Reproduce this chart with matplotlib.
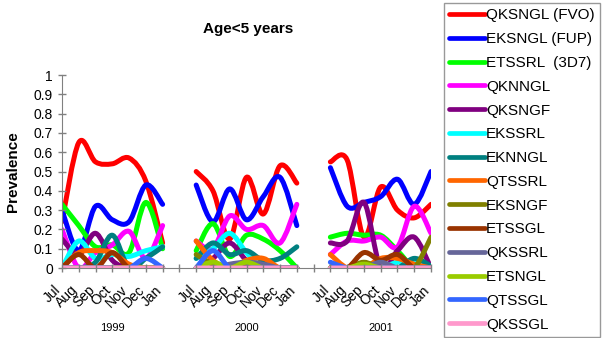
import numpy as np
import matplotlib
matplotlib.use("Agg")
import matplotlib.pyplot as plt
from matplotlib.path import Path
from matplotlib.patches import PathPatch
from matplotlib.lines import Line2D
import matplotlib.transforms as mtransforms

plt.rcParams['font.family'] = ['Liberation Sans', 'DejaVu Sans']

# categories
months = ['Jul', 'Aug', 'Sep', 'Oct', 'Nov', 'Dec', 'Jan']
years = ['1999', '2000', '2001']

# prevalence per series, Jul..Jan for 1999, 2000, 2001
qksngl_fvo = [0.24, 0.65, 0.55, 0.54, 0.57, 0.45, 0.13,
              0.50, 0.40, 0.15, 0.47, 0.28, 0.53, 0.44,
              0.55, 0.56, 0.16, 0.42, 0.30, 0.26, 0.33]
eksngl_fup = [0.30, 0.09, 0.32, 0.25, 0.24, 0.43, 0.33,
              0.43, 0.24, 0.41, 0.25, 0.37, 0.47, 0.22,
              0.52, 0.32, 0.34, 0.37, 0.46, 0.33, 0.50]
etssrl_3d7 = [0.33, 0.22, 0.11, 0.12, 0.08, 0.34, 0.10,
              0.09, 0.23, 0.06, 0.17, 0.15, 0.09, 0.00,
              0.16, 0.18, 0.17, 0.17, 0.09, 0.00, 0.00]
qknngl = [0.20, 0.00, 0.08, 0.12, 0.19, 0.05, 0.22,
          0.14, 0.10, 0.27, 0.20, 0.22, 0.13, 0.33,
          0.07, 0.14, 0.14, 0.16, 0.11, 0.32, 0.18]
qksngf = [0.15, 0.07, 0.18, 0.04, 0.00, 0.00, 0.00,
          0.00, 0.05, 0.13, 0.04, 0.00, 0.00, 0.00,
          0.13, 0.14, 0.34, 0.00, 0.09, 0.16, 0.00]
ekssrl = [0.00, 0.14, 0.05, 0.07, 0.06, 0.09, 0.11,
          0.05, 0.10, 0.18, 0.08, 0.00, 0.00, 0.00,
          0.00, 0.00, 0.00, 0.00, 0.03, 0.03, 0.00]
eknngl = [0.00, 0.00, 0.03, 0.17, 0.00, 0.05, 0.11,
          0.05, 0.13, 0.07, 0.09, 0.04, 0.05, 0.11,
          0.00, 0.00, 0.00, 0.00, 0.00, 0.05, 0.01]
qtssrl = [0.00, 0.08, 0.09, 0.08, 0.02, 0.00, 0.00,
          0.14, 0.04, 0.00, 0.04, 0.05, 0.00, 0.00,
          0.07, 0.00, 0.00, 0.05, 0.05, 0.02, 0.00]
eksngf = [0.00, 0.00, 0.00, 0.00, 0.00, 0.00, 0.00,
          0.07, 0.02, 0.00, 0.00, 0.00, 0.00, 0.00,
          0.00, 0.00, 0.03, 0.00, 0.00, 0.00, 0.16]
etssgl = [0.00, 0.07, 0.00, 0.08, 0.00, 0.00, 0.00,
          0.00, 0.00, 0.00, 0.02, 0.00, 0.00, 0.00,
          0.00, 0.00, 0.08, 0.04, 0.07, 0.00, 0.00]
qkssrl = [0.00, 0.00, 0.00, 0.00, 0.00, 0.00, 0.00,
          0.00, 0.00, 0.02, 0.03, 0.02, 0.00, 0.00,
          0.00, 0.00, 0.00, 0.03, 0.00, 0.00, 0.00]
etsngl = [0.00, 0.00, 0.00, 0.00, 0.00, 0.00, 0.00,
          0.00, 0.03, 0.00, 0.03, 0.00, 0.00, 0.00,
          0.00, 0.00, 0.02, 0.00, 0.00, 0.00, 0.00]
qtssgl = [0.00, 0.00, 0.00, 0.00, 0.00, 0.05, 0.00,
          0.00, 0.09, 0.00, 0.00, 0.00, 0.00, 0.00,
          0.03, 0.00, 0.00, 0.00, 0.00, 0.00, 0.00]
qkssgl = [0.0] * 21

series_names = ['QKSNGL (FVO)', 'EKSNGL (FUP)', 'ETSSRL  (3D7)', 'QKNNGL', 'QKSNGF',
                'EKSSRL', 'EKNNGL', 'QTSSRL', 'EKSNGF', 'ETSSGL', 'QKSSRL',
                'ETSNGL', 'QTSSGL', 'QKSSGL']
series_values = [qksngl_fvo, eksngl_fup, etssrl_3d7, qknngl, qksngf, ekssrl, eknngl,
                 qtssrl, eksngf, etssgl, qkssrl, etsngl, qtssgl, qkssgl]
colors = ['#FF0000', '#0000FF', '#00FF00', '#FF00FF', '#800080', '#00FFFF', '#008080',
          '#FF6600', '#808000', '#993300', '#666699', '#99CC00', '#3366FF', '#FF99CC']


def smooth_path(xs, ys):
    # excel style smoothed line: cubic bezier through every point
    pts = np.column_stack([xs, ys])
    n = len(pts)
    verts = [pts[0]]
    codes = [Path.MOVETO]
    for i in range(n - 1):
        p0 = pts[max(i - 1, 0)]
        p1 = pts[i]
        p2 = pts[i + 1]
        p3 = pts[min(i + 2, n - 1)]
        verts += [p1 + (p2 - p0) / 6.0, p2 - (p3 - p1) / 6.0, p2]
        codes += [Path.CURVE4] * 3
    return Path(verts, codes)


fig = plt.figure(figsize=(6.1, 3.38), dpi=100)
ax = fig.add_axes([0.1016, 0.207, 0.6050, 0.571])

n_cat = len(years) * len(months) + len(years) - 1
for vals, col in zip(series_values, colors):
    for k in range(len(years)):
        xs = np.arange(len(months)) + k * (len(months) + 1)
        ys = np.array(vals[k * len(months):(k + 1) * len(months)])
        patch = PathPatch(smooth_path(xs, ys), fill=False, edgecolor=col, lw=3.6,
                          capstyle='round', joinstyle='round')
        ax.add_patch(patch)

ax.set_xlim(0, n_cat - 1)
ax.set_ylim(0, 1)
ax.set_yticks(np.arange(0, 1.01, 0.1))
ax.set_yticklabels(['0'] + ['%.1f' % v for v in np.arange(0.1, 0.95, 0.1)] + ['1'], fontsize=10)

ax.set_xticks(range(n_cat))
ax.set_xticklabels([])

for side in ['top', 'right']:
    ax.spines[side].set_visible(False)
for side in ['left', 'bottom']:
    ax.spines[side].set_color('#808080')
ax.tick_params(direction='inout', length=6, color='#808080', width=1)

# slanted month labels, sitting a bit left of and below each tick like in excel
trans = mtransforms.blended_transform_factory(ax.transData, ax.transAxes)
shift = mtransforms.ScaledTranslation(-8 / 100, -15 / 100, fig.dpi_scale_trans)
for k in range(len(years)):
    for i, m in enumerate(months):
        ax.text(i + k * (len(months) + 1), 0, m, transform=trans + shift, rotation=45,
                ha='right', va='top', rotation_mode='anchor', fontsize=10)

for k, yr in enumerate(years):
    ax.text(3 + k * (len(months) + 1), -0.31, yr, transform=trans, ha='center', va='center',
            fontsize=8)

ax.set_ylabel('Prevalence', fontsize=11, fontweight='bold', labelpad=10)
fig.text(0.407, 0.915, 'Age<5 years', ha='center', va='center', fontsize=11, fontweight='bold')

handles = [Line2D([], [], color=c, lw=3.4, solid_capstyle='round') for c in colors]
leg = fig.legend(handles, series_names, loc='upper left', bbox_to_anchor=(0.728, 0.991),
                 borderaxespad=0, fontsize=11, frameon=True, fancybox=False,
                 edgecolor='#808080', handlelength=2.3, handletextpad=0.1,
                 labelspacing=0.64, borderpad=0.35)
leg.get_frame().set_linewidth(1)

fig.savefig('out.png', dpi=100)
